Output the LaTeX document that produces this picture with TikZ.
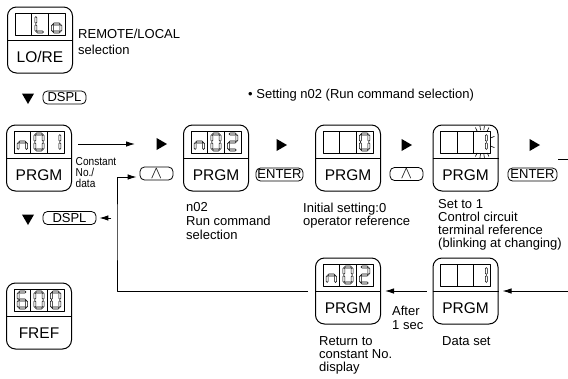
\documentclass[tikz,border=0pt]{standalone}
\usepackage{fontspec}
\setmainfont{Liberation Sans}
\newfontfamily\narrowfont[FakeStretch=0.88]{Liberation Sans}
\usetikzlibrary{shapes.geometric,arrows.meta}

\tikzset{
  panel/.style={shape=rectangle, draw=black, line width=1pt, rounded corners=9pt, minimum width=65pt, minimum height=66pt, inner sep=0pt},
  plabel/.style={inner sep=0pt, font=\fontsize{15.5}{16}\selectfont},
  key/.style={shape=rectangle, draw=black, line width=0.8pt, rounded corners=4.5pt, inner xsep=1.5pt, inner ysep=0pt, minimum height=13pt, font=\fontsize{13}{13}\selectfont},
  tri/.style={regular polygon, regular polygon sides=3, fill=black, inner sep=0pt, minimum size=14pt},
  note/.style={align=left, anchor=north west, inner sep=0pt, font=\fontsize{13}{13.5}\selectfont},
  arr/.style={line width=0.9pt, -{Latex[length=9pt, width=5.5pt]}},
  seg/.style={draw=black, line width=0.55pt, line join=miter},
  % horizontal segments
  seg a/.pic={\draw[seg] (-3.6,-8) -- (-2.6,-9) -- (2.6,-9) -- (3.6,-8) -- (2.6,-7) -- (-2.6,-7) -- cycle;},
  seg g/.pic={\draw[seg] (-3.6,0) -- (-2.6,-1) -- (2.6,-1) -- (3.6,0) -- (2.6,1) -- (-2.6,1) -- cycle;},
  seg d/.pic={\draw[seg] (-3.6,8) -- (-2.6,7) -- (2.6,7) -- (3.6,8) -- (2.6,9) -- (-2.6,9) -- cycle;},
  % vertical segments
  seg b/.pic={\draw[seg] (4.2,-7.4) -- (5.2,-6.4) -- (5.2,-1.6) -- (4.2,-0.6) -- (3.2,-1.6) -- (3.2,-6.4) -- cycle;},
  seg c/.pic={\draw[seg] (4.2,0.6) -- (5.2,1.6) -- (5.2,6.4) -- (4.2,7.4) -- (3.2,6.4) -- (3.2,1.6) -- cycle;},
  seg f/.pic={\draw[seg] (-4.2,-7.4) -- (-3.2,-6.4) -- (-3.2,-1.6) -- (-4.2,-0.6) -- (-5.2,-1.6) -- (-5.2,-6.4) -- cycle;},
  seg e/.pic={\draw[seg] (-4.2,0.6) -- (-3.2,1.6) -- (-3.2,6.4) -- (-4.2,7.4) -- (-5.2,6.4) -- (-5.2,1.6) -- cycle;},
}

% display box: name, x, y, key label
\newcommand{\panel}[4]{%
  \node[panel] (#1) at (#2, #3) {};
  \draw[line width=0.6pt] (#1.west) -- (#1.east);
  \draw[line width=0.8pt] (#2-25, #3-27) rectangle (#2+25, #3-5);
  \draw[line width=0.8pt] (#2-8.33, #3-27) -- (#2-8.33, #3-5) (#2+8.33, #3-27) -- (#2+8.33, #3-5);
  \node[plabel] (#1-key) at (#2, #3+17) {#4};
}

% seven segment digit: x, y, segments
\newcommand{\digit}[3]{%
  \begin{scope}[shift={(#1, #2)}, xslant=0.15]
    \foreach \s in {#3} {\pic {seg \s};}
  \end{scope}}

\begin{document}
\begin{tikzpicture}[x=1pt, y=-1pt, line join=round]
    \useasboundingbox (0, 0) rectangle (568, 378);

    \panel{lore}{40}{40}{LO/RE}
    \digit{40}{24}{d,e,f}
    \digit{40+16.67}{24}{c,d,e,g}
    \node[note, font=\fontsize{13}{16}\selectfont] (lore-note) at (78, 28.5) {REMOTE/LOCAL\\selection};

    \node[tri, shape border rotate=180] (down1) at (28, 97) {};
    \node[key, minimum width=43pt] (dspl1) at (64.5, 97.5) {DSPL};

    \node[note, anchor=west] (title) at (248, 95) {\textbullet\ Setting n02 (Run command selection)};

    \panel{n01}{39}{158}{PRGM}
    \digit{39-16.67}{142}{c,e,g}
    \digit{39}{142}{a,b,c,d,e,f}
    \digit{39+16.67}{142}{b,c}
    \node[note, font=\narrowfont\fontsize{11.5}{11}\selectfont] (const) at (75.5, 157) {Constant\\No./\\data};

    \node[tri, shape border rotate=-90] (r1) at (160, 144) {};
    \node[key, minimum width=33pt, font=\fontsize{17}{15}\selectfont] (up1) at (156.5, 173.5) {$\wedge$};

    \panel{n02}{216}{158}{PRGM}
    \digit{216-16.67}{142}{c,e,g}
    \digit{216}{142}{a,b,c,d,e,f}
    \digit{216+16.67}{142}{a,b,g,e,d}
    \node[note, font=\fontsize{13}{14}\selectfont] (n02-note) at (186, 202.5) {n02\\Run command\\selection};

    \node[tri, shape border rotate=-90] (r2) at (280, 145) {};
    \node[key, minimum width=47pt] (enter1) at (279.5, 174.5) {ENTER};

    \panel{zero}{348}{158}{PRGM}
    \digit{348+16.67}{142}{a,b,c,d,e,f}
    \node[note] (zero-note) at (303, 202.5) {Initial setting:0\\operator reference};

    \node[tri, shape border rotate=-90] (r3) at (405, 145) {};
    \node[key, minimum width=33pt, font=\fontsize{17}{15}\selectfont] (up2) at (406.5, 174) {$\wedge$};

    \panel{blink}{465.5}{158}{PRGM}
    \digit{465.5+16.67}{142}{b,c}
    \coordinate (blinkc) at (482.17, 142);
    \foreach \a in {245, 262, 278, 295, 65, 82, 98, 115}
        \draw[line width=0.6pt] (blinkc) ++(\a:12) -- ++(\a:4);
    \foreach \a in {335, 25}
        \draw[line width=0.6pt] (blinkc) ++(\a:10) -- ++(\a:3.5);
    \node[note, font=\fontsize{13}{13}\selectfont] (blink-note) at (438, 199.5) {Set to 1\\Control circuit\\terminal reference\\(blinking at changing)};

    \node[tri, shape border rotate=-90] (r4) at (533, 145) {};
    \node[key, minimum width=49pt] (enter2) at (532.5, 174.5) {ENTER};

    \node[tri, shape border rotate=180] (down2) at (28, 218) {};
    \node[key, minimum width=53pt] (dspl2) at (69.5, 218) {DSPL};

    \panel{ret}{348}{291}{PRGM}
    \digit{348-16.67}{275}{c,e,g}
    \digit{348}{275}{a,b,c,d,e,f}
    \digit{348+16.67}{275}{a,b,g,e,d}
    \node[note, font=\fontsize{13}{13}\selectfont] (ret-note) at (319, 336.5) {Return to\\constant No.\\display};

    \node[note, font=\fontsize{13}{14.5}\selectfont] (after) at (392, 305.5) {After\\1 sec};

    \panel{data}{465.5}{291}{PRGM}
    \digit{465.5+16.67}{275}{b,c}
    \node[note] (data-note) at (442, 336.5) {Data set};

    \panel{fref}{39}{316}{FREF}
    \digit{39-16.67}{300}{a,f,g,e,d,c}
    \digit{39}{300}{a,b,c,d,e,f}
    \digit{39+16.67}{300}{a,b,c,d,e,f}

    \coordinate (turn) at (117, 230);
    \coordinate (rin) at (568, 291);
    \coordinate (rout) at (568, 159);

    \draw[arr] ([xshift=6pt, yshift=14pt]n01.east) -- ([xshift=-25pt]r1.center);
    \draw[arr] ([xshift=-7pt]ret.west) -| (turn) |- ([xshift=-3pt, yshift=-3.5pt]up1.west);
    \draw[arr] ([xshift=15pt]dspl2.east) -- ([xshift=3pt]dspl2.east);
    \draw[arr] ([xshift=-6pt]data.west) -- ([xshift=4pt]ret.east);
    \draw[arr] (rin) -- ([xshift=4pt]data.east);
    \draw[line width=0.9pt] ([xshift=1pt, yshift=15.5pt]enter2.east) -- (rout);

\end{tikzpicture}
\end{document}
